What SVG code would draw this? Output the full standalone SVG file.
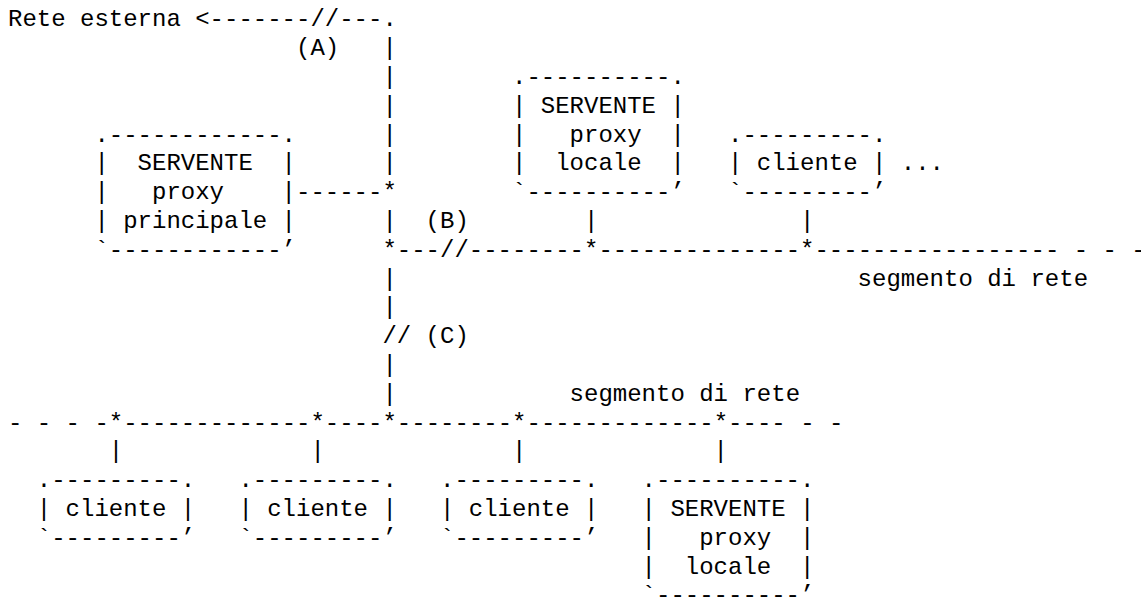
<svg xmlns="http://www.w3.org/2000/svg" width="1141" height="603" viewBox="0 0 1141 603" xml:space="preserve">
<style>
text { font-family: "Liberation Mono", "Courier New", monospace; font-size: 24px; fill: #000; white-space: pre; }
</style>
<rect width="1141" height="603" fill="#fff"/>
<g id="connectors">
<text x="195.2" y="26.4">&lt;-------//---.</text>
<text x="296" y="55.2">(A)</text>
<text x="382.4" y="55.2">|</text>
<text x="382.4" y="84">|</text>
<text x="382.4" y="112.8">|</text>
<text x="382.4" y="141.6">|</text>
<text x="382.4" y="170.4">|</text>
<text x="296" y="199.2">------*</text>
<text x="382.4" y="228">|</text>
<text x="425.6" y="228">(B)</text>
<text x="584" y="228">|</text>
<text x="800" y="228">|</text>
<text x="382.4" y="256.8">*---//--------*--------------*----------------- - - -</text>
<text x="382.4" y="285.6">|</text>
<text x="857.6" y="285.6">segmento di rete</text>
<text x="382.4" y="314.4">|</text>
<text x="382.4" y="343.2">// (C)</text>
<text x="382.4" y="372">|</text>
<text x="382.4" y="400.8">|</text>
<text x="569.6" y="400.8">segmento di rete</text>
<text x="8" y="429.6">- - - -*-------------*----*--------*-------------*---- - -</text>
<text x="108.8" y="458.4">|</text>
<text x="310.4" y="458.4">|</text>
<text x="512" y="458.4">|</text>
<text x="713.6" y="458.4">|</text>
</g>
<g id="rete-esterna">
<text x="8" y="26.4">Rete esterna</text>
</g>
<g id="proxy-principale">
<text x="94.4" y="141.6">.------------.</text>
<text x="94.4" y="170.4">|  SERVENTE  |</text>
<text x="94.4" y="199.2">|   proxy    |</text>
<text x="94.4" y="228">| principale |</text>
<text x="94.4" y="256.8">`------------’</text>
</g>
<g id="proxy-locale-1">
<text x="512" y="84">.----------.</text>
<text x="512" y="112.8">| SERVENTE |</text>
<text x="512" y="141.6">|   proxy  |</text>
<text x="512" y="170.4">|  locale  |</text>
<text x="512" y="199.2">`----------’</text>
</g>
<g id="cliente-1">
<text x="728" y="141.6">.---------.</text>
<text x="728" y="170.4">| cliente |</text>
<text x="728" y="199.2">`---------’</text>
</g>
<g id="altri">
<text x="900.8" y="170.4">...</text>
</g>
<g id="cliente-2">
<text x="36.8" y="487.2">.---------.</text>
<text x="36.8" y="516">| cliente |</text>
<text x="36.8" y="544.8">`---------’</text>
</g>
<g id="cliente-3">
<text x="238.4" y="487.2">.---------.</text>
<text x="238.4" y="516">| cliente |</text>
<text x="238.4" y="544.8">`---------’</text>
</g>
<g id="cliente-4">
<text x="440" y="487.2">.---------.</text>
<text x="440" y="516">| cliente |</text>
<text x="440" y="544.8">`---------’</text>
</g>
<g id="proxy-locale-2">
<text x="641.6" y="487.2">.----------.</text>
<text x="641.6" y="516">| SERVENTE |</text>
<text x="641.6" y="544.8">|   proxy  |</text>
<text x="641.6" y="573.6">|  locale  |</text>
<text x="641.6" y="602.4">`----------’</text>
</g>
</svg>
